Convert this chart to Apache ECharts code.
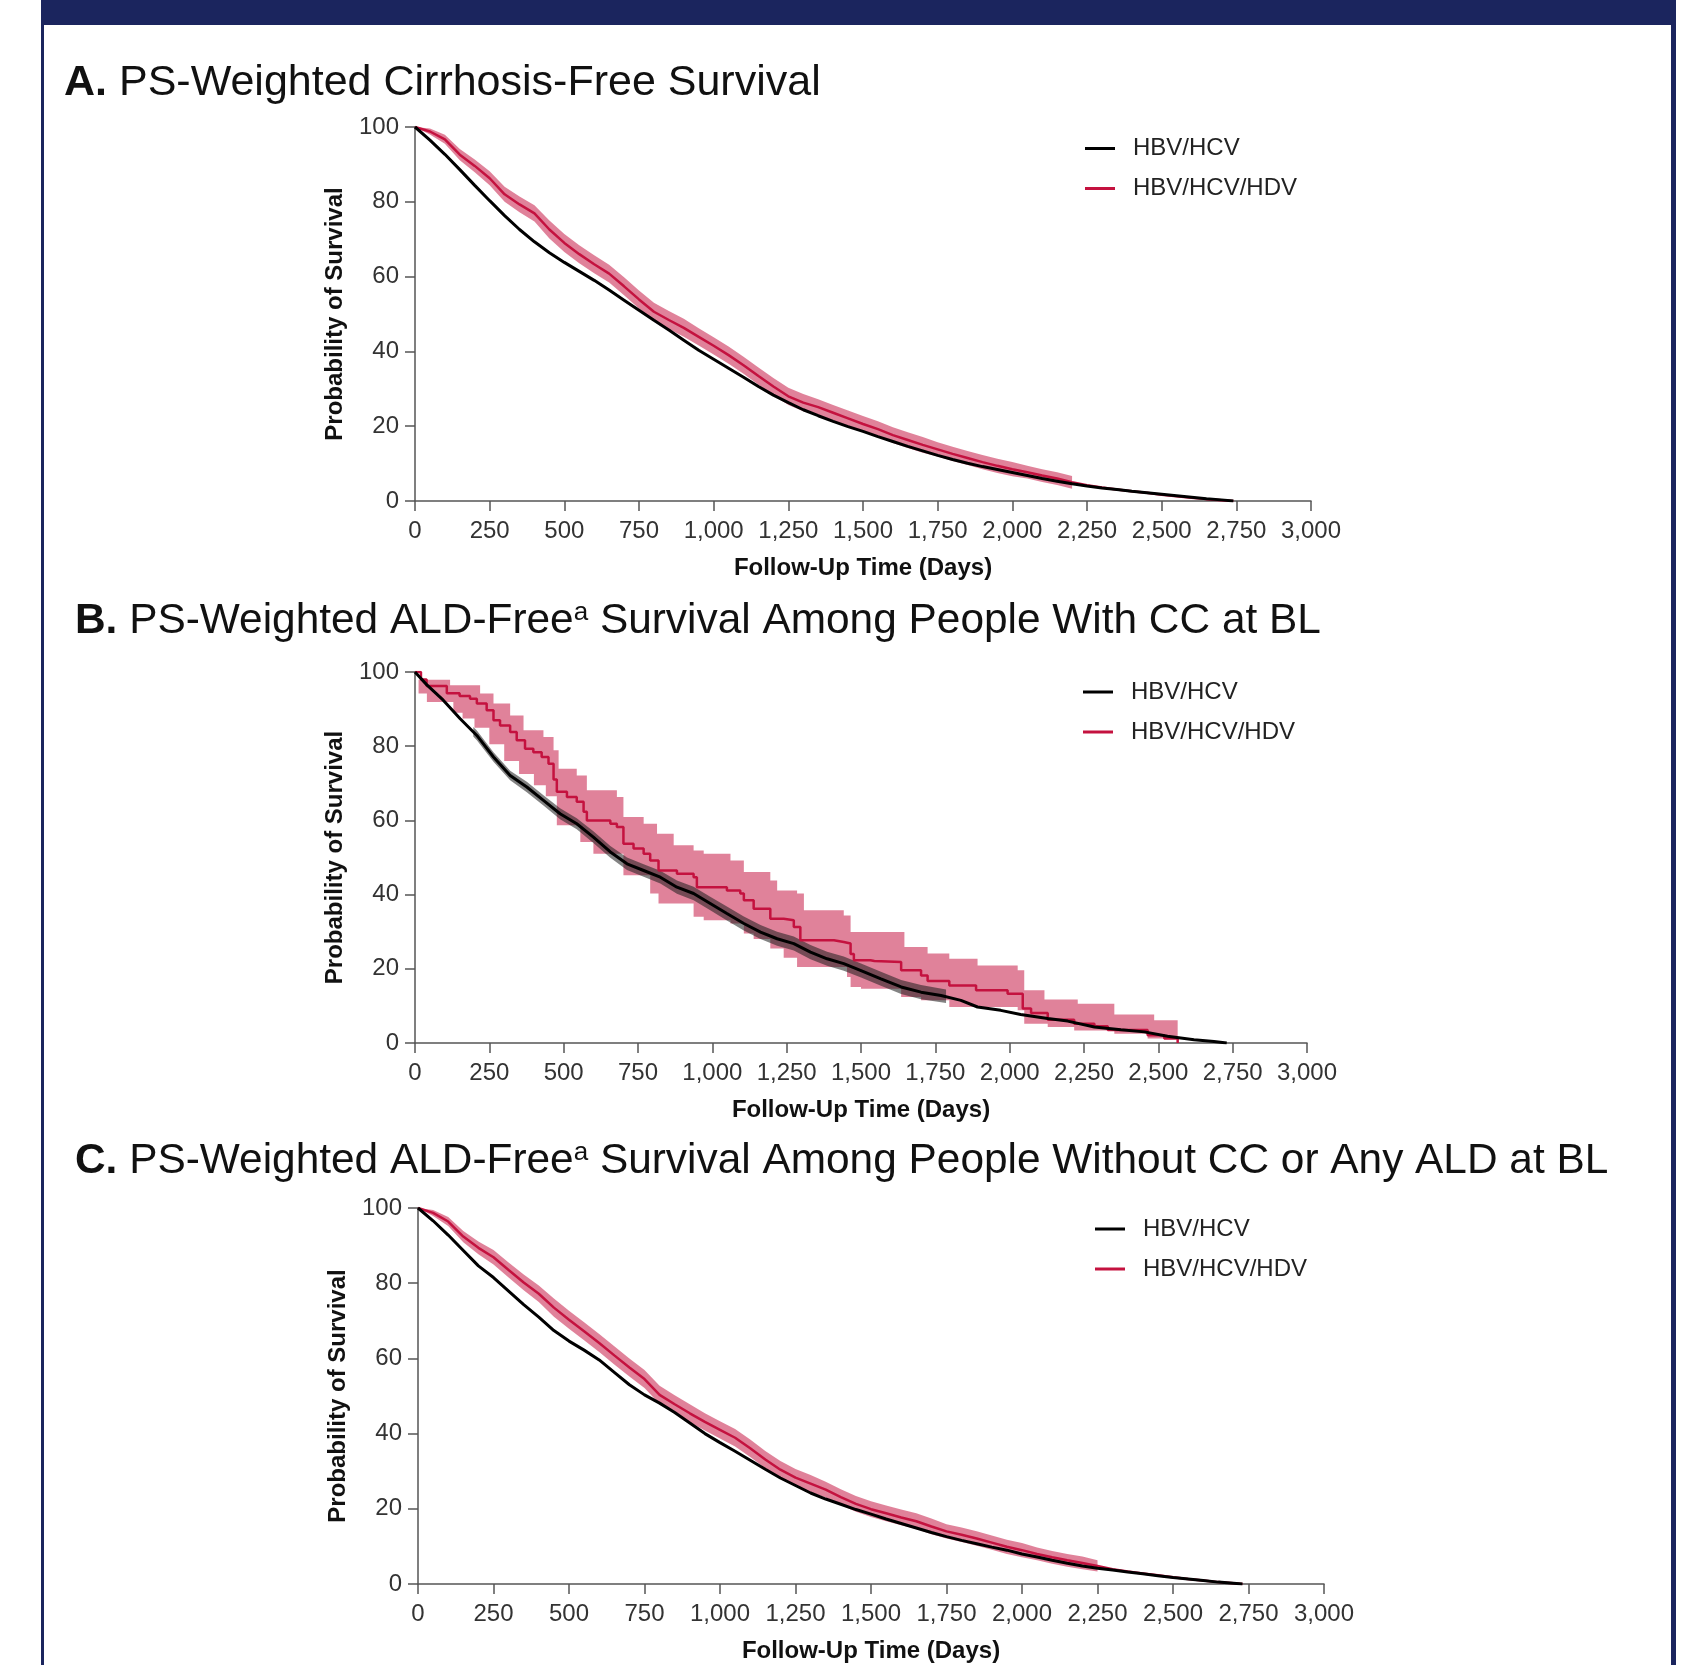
<!DOCTYPE html>
<html>
<head>
<meta charset="utf-8">
<script src="https://cdn.jsdelivr.net/npm/echarts@6/dist/echarts.min.js"></script>
<style>
  html, body { margin: 0; padding: 0; background: #ffffff; }
  #chart { width: 1689px; height: 1665px; }
</style>
</head>
<body>
<div id="chart"></div>
<script>
// ---- Axis ticks ----
const xTickLabels = ['0', '250', '500', '750', '1,000', '1,250', '1,500', '1,750', '2,000', '2,250', '2,500', '2,750', '3,000'];
const yTickLabels = ['0', '20', '40', '60', '80', '100'];
const seriesNames = ['HBV/HCV', 'HBV/HCV/HDV'];

// ---- Panel A: cirrhosis-free survival, [day, %] ----
const aBlack = [[0,100],[50,96.5],[100,92.7],[150,88.6],[200,84.4],[250,80.3],[300,76.3],[350,72.6],[400,69.3],[450,66.4],[500,63.8],[550,61.4],[600,59.0],[650,56.4],[700,53.7],[750,51.0],[800,48.3],[850,45.7],[900,43.0],[950,40.3],[1000,37.9],[1050,35.5],[1100,33.1],[1150,30.6],[1200,28.3],[1250,26.3],[1300,24.4],[1350,22.8],[1400,21.3],[1450,19.9],[1500,18.6],[1550,17.2],[1600,15.9],[1650,14.6],[1700,13.4],[1750,12.2],[1800,11.1],[1850,10.1],[1900,9.2],[1950,8.4],[2000,7.6],[2050,6.8],[2100,6.0],[2150,5.3],[2200,4.6],[2250,4.0],[2300,3.5],[2350,3.1],[2400,2.6],[2450,2.2],[2500,1.8],[2550,1.4],[2600,1.0],[2650,0.6],[2700,0.3],[2740,0]];
const aRed = [[0,100],[50,98.8],[100,96.7],[150,92.6],[200,89.6],[250,86.3],[300,82.0],[350,79.3],[400,76.9],[450,72.6],[500,69.0],[550,66.0],[600,63.3],[650,60.8],[700,57.4],[750,53.9],[800,50.6],[850,48.4],[900,46.3],[950,43.9],[1000,41.5],[1050,39.0],[1100,36.3],[1150,33.4],[1200,30.6],[1250,28.0],[1300,26.3],[1350,25.1],[1400,23.6],[1450,22.1],[1500,20.6],[1550,19.2],[1600,17.6],[1650,16.3],[1700,15.0],[1750,13.8],[1800,12.6],[1850,11.5],[1900,10.4],[1950,9.4],[2000,8.5],[2050,7.7],[2100,6.8],[2150,6.0],[2200,5.0],[2250,4.2],[2300,3.6],[2350,3.1],[2400,2.6],[2450,2.2],[2500,1.7],[2550,1.3],[2600,0.9],[2650,0.5],[2700,0.2],[2740,0]];
// [day, lower, upper]
const aRedBand = [[0,100,100],[50,98.0,99.6],[100,95.5,97.9],[150,91.1,94.1],[200,87.9,91.3],[250,84.4,88.2],[300,80.0,84.0],[350,77.2,81.4],[400,74.7,79.1],[450,70.2,75.0],[500,66.6,71.4],[550,63.6,68.4],[600,60.9,65.7],[650,58.4,63.2],[700,55.0,59.8],[750,51.5,56.3],[800,48.2,53.0],[850,46.0,50.8],[900,43.9,48.7],[950,41.6,46.2],[1000,39.2,43.8],[1050,36.7,41.3],[1100,34.0,38.6],[1150,31.1,35.7],[1200,28.3,32.9],[1250,25.7,30.3],[1300,24.0,28.6],[1350,23.0,27.2],[1400,21.5,25.7],[1450,20.0,24.2],[1500,18.5,22.7],[1550,17.1,21.3],[1600,15.5,19.7],[1650,14.2,18.4],[1700,12.9,17.1],[1750,11.9,15.7],[1800,10.7,14.5],[1850,9.6,13.4],[1900,8.5,12.3],[1950,7.5,11.3],[2000,6.6,10.4],[2050,6.0,9.4],[2100,5.1,8.5],[2150,4.3,7.7],[2200,3.3,6.7]];

// ---- Panel B: ALD-free survival, CC at BL ----
const bBlack = [[0,100],[39,96.6],[95,92.4],[152,87.4],[208,82.9],[264,77.1],[320,72.1],[376,69.0],[432,65.4],[488,61.8],[544,59.1],[600,55.5],[657,51.5],[713,48.3],[769,46.5],[825,44.7],[881,42.0],[937,40.3],[993,37.6],[1049,34.9],[1106,32.2],[1162,29.9],[1218,28.1],[1274,26.8],[1330,24.5],[1386,22.7],[1442,21.4],[1498,19.6],[1567,17.3],[1635,15.1],[1702,13.7],[1769,12.8],[1836,11.5],[1892,9.7],[1970,8.8],[2037,7.7],[2128,6.6],[2195,5.9],[2285,4.3],[2374,3.6],[2453,3.0],[2531,1.8],[2620,0.9],[2687,0.4],[2730,0]];
const bBlackBand = [[196,82.6,85.2],[208,81.6,84.2],[264,75.8,78.4],[320,70.8,73.4],[376,67.6,70.4],[432,64.0,66.8],[488,60.3,63.3],[544,57.6,60.6],[600,53.9,57.1],[657,49.9,53.1],[713,46.6,50.0],[769,44.8,48.2],[825,43.0,46.4],[881,40.2,43.8],[937,38.5,42.1],[993,35.8,39.4],[1049,33.0,36.8],[1106,30.3,34.1],[1162,28.0,31.8],[1218,26.2,30.0],[1274,24.9,28.7],[1330,22.6,26.4],[1386,20.8,24.6],[1442,19.5,23.3],[1498,17.7,21.5],[1567,15.4,19.2],[1635,13.2,17.0],[1702,11.8,15.6],[1786,10.8,14.4]];
// step points: value from this day onward
const bRed = [[0,100],[20,98.0],[39,96.2],[107,94.3],[150,93.5],[185,92.8],[208,91.5],[241,89.7],[264,87.0],[286,85.6],[320,83.8],[342,81.6],[370,79.3],[398,78.4],[426,77.1],[449,75.3],[466,71.0],[477,67.7],[511,66.3],[544,65.0],[567,62.3],[578,60.0],[657,59.1],[679,58.2],[701,53.7],[735,52.4],[769,51.0],[791,49.2],[819,46.5],[881,45.6],[937,44.7],[948,42.0],[1049,41.1],[1094,40.3],[1106,38.5],[1139,36.2],[1195,33.5],[1240,33.1],[1274,31.3],[1296,27.7],[1409,27.2],[1442,26.8],[1465,24.0],[1476,22.3],[1532,22.1],[1545,21.8],[1635,19.6],[1702,18.2],[1724,16.7],[1797,15.5],[1887,14.2],[1993,13.3],[2044,9.3],[2072,8.1],[2128,6.3],[2217,5.2],[2285,4.5],[2330,3.5],[2464,2.1],[2520,1.2],[2565,0]];
const bRedBand = [[0,100,100],[12,94.2,97.9],[40,91.9,97.9],[118,91.9,96.4],[129,89.0,96.4],[160,87.5,96.4],[200,85.0,96.4],[219,85.0,94.2],[250,80.5,94.2],[264,80.5,91.5],[300,76.0,91.5],[320,76.0,88.3],[350,72.5,88.3],[365,72.5,84.3],[400,69.5,84.3],[432,69.5,82.5],[440,66.5,82.5],[466,66.5,78.9],[477,58.7,78.9],[483,58.7,73.9],[544,58.7,72.1],[556,54.2,72.1],[578,54.2,68.1],[600,51.0,68.1],[679,51.0,66.3],[701,45.2,60.9],[769,45.2,59.1],[791,40.3,59.1],[814,40.3,56.4],[819,37.6,56.4],[870,37.6,53.3],[937,34.0,51.9],[971,33.1,51.0],[1061,32.2,49.2],[1106,29.5,46.1],[1139,28.0,46.1],[1195,25.5,43.8],[1218,25.5,41.1],[1240,23.0,41.1],[1285,20.5,40.3],[1308,20.5,35.8],[1442,20.5,34.4],[1453,17.8,34.4],[1465,15.1,29.9],[1500,14.6,29.9],[1635,12.4,29.9],[1646,12.4,25.9],[1702,11.5,25.9],[1724,11.5,24.1],[1797,9.7,22.7],[1892,9.7,20.9],[2027,8.8,19.6],[2049,5.2,14.2],[2117,5.2,11.7],[2128,4.3,11.7],[2217,3.4,11.7],[2229,3.4,10.6],[2352,2.5,7.7],[2464,1.2,7.7],[2486,1.2,6.1],[2565,0.3,4.8]];

// ---- Panel C: ALD-free survival, no CC or ALD at BL ----
const cBlack = [[0,100],[50,96.6],[100,92.8],[150,88.7],[200,84.6],[250,81.5],[300,77.9],[350,74.3],[400,71.0],[450,67.4],[500,64.6],[550,62.2],[600,59.6],[650,56.3],[700,53.0],[750,50.3],[800,48.1],[850,45.6],[900,42.8],[950,40.0],[1000,37.6],[1050,35.3],[1100,32.9],[1150,30.5],[1200,28.2],[1250,26.2],[1300,24.2],[1350,22.6],[1400,21.2],[1450,19.8],[1500,18.6],[1550,17.3],[1600,16.1],[1650,14.9],[1700,13.7],[1750,12.6],[1800,11.6],[1850,10.7],[1900,9.8],[1950,9.0],[2000,8.0],[2050,7.2],[2100,6.3],[2150,5.5],[2200,4.8],[2250,4.2],[2300,3.7],[2350,3.2],[2400,2.7],[2450,2.2],[2500,1.7],[2550,1.3],[2600,0.9],[2650,0.5],[2700,0.2],[2730,0]];
const cRed = [[0,100],[50,98.7],[100,96.4],[150,92.4],[200,89.4],[250,86.9],[300,83.5],[350,80.2],[400,77.2],[450,73.5],[500,70.3],[550,67.2],[600,64.1],[650,60.8],[700,57.6],[750,54.5],[800,50.3],[850,47.8],[900,45.4],[950,43.1],[1000,41.0],[1050,38.9],[1100,36.1],[1150,33.1],[1200,30.4],[1250,28.3],[1300,26.7],[1350,25.1],[1400,23.1],[1450,21.3],[1500,19.9],[1550,18.8],[1600,17.7],[1650,16.7],[1700,15.3],[1750,14.0],[1800,13.1],[1850,12.1],[1900,11.0],[1950,9.9],[2000,9.0],[2050,8.0],[2100,7.1],[2150,6.3],[2200,5.6],[2250,4.8],[2300,3.9],[2350,3.3],[2400,2.8],[2450,2.3],[2500,1.8],[2550,1.3],[2600,0.9],[2650,0.5],[2700,0.2],[2730,0]];
const cRedBand = [[0,100,100],[50,97.9,99.5],[100,95.2,97.6],[150,90.9,93.9],[200,87.7,91.1],[250,85.0,88.8],[300,81.5,85.5],[350,78.1,82.3],[400,75.0,79.4],[450,71.1,75.9],[500,67.9,72.7],[550,64.8,69.6],[600,61.7,66.5],[650,58.4,63.2],[700,55.2,60.0],[750,52.1,56.9],[800,47.9,52.7],[850,45.4,50.2],[900,43.0,47.8],[950,40.8,45.4],[1000,38.7,43.3],[1050,36.6,41.2],[1100,33.8,38.4],[1150,30.8,35.4],[1200,28.1,32.7],[1250,26.0,30.6],[1300,24.4,29.0],[1350,23.0,27.2],[1400,21.0,25.2],[1450,19.2,23.4],[1500,17.8,22.0],[1550,16.7,20.9],[1600,15.6,19.8],[1650,14.6,18.8],[1700,13.2,17.4],[1750,12.1,15.9],[1800,11.2,15.0],[1850,10.2,14.0],[1900,9.1,12.9],[1950,8.0,11.8],[2000,7.1,10.9],[2050,6.3,9.7],[2100,5.4,8.8],[2150,4.6,8.0],[2200,3.9,7.3],[2250,3.3,6.3]];

// ---- Styling ----
const FONT = '"Liberation Sans", Arial, Helvetica, sans-serif';
const NAVY = '#1b255e';
const RED = '#c4123f';
const RED_BAND = 'rgba(196, 18, 64, 0.53)';
const GREY_BAND = 'rgba(30, 30, 30, 0.55)';
const AXIS_GREY = '#555555';

const grids = [
  { left: 415, top: 127, width: 896, height: 374 },
  { left: 415, top: 672, width: 892, height: 371 },
  { left: 418, top: 1208, width: 906, height: 376 }
];

function xAxisFor(i) {
  return {
    gridIndex: i, type: 'value', min: 0, max: 3000, interval: 250,
    axisLine: { show: true, lineStyle: { color: AXIS_GREY, width: 1.5 } },
    axisTick: { show: true, length: 10, lineStyle: { color: AXIS_GREY, width: 1.5 } },
    splitLine: { show: false },
    axisLabel: {
      fontSize: 24, color: '#333', fontFamily: FONT, margin: 18, interval: 0,
      formatter: v => xTickLabels[Math.round(v / 250)]
    },
    name: 'Follow-Up Time (Days)', nameLocation: 'middle', nameGap: 55,
    nameTextStyle: { fontSize: 24, fontWeight: 'bold', color: '#111', fontFamily: FONT }
  };
}
function yAxisFor(i) {
  return {
    gridIndex: i, type: 'value', min: 0, max: 100, interval: 20,
    axisLine: { show: true, lineStyle: { color: AXIS_GREY, width: 1.5 } },
    axisTick: { show: true, length: 10, lineStyle: { color: AXIS_GREY, width: 1.5 } },
    splitLine: { show: false },
    axisLabel: {
      fontSize: 24, color: '#333', fontFamily: FONT, margin: 16,
      formatter: v => yTickLabels[Math.round(v / 20)]
    },
    name: 'Probability of Survival', nameLocation: 'middle', nameGap: 68, nameRotate: 90,
    nameTextStyle: { fontSize: 24, fontWeight: 'bold', color: '#111', fontFamily: FONT }
  };
}

function curve(name, data, color, width, i, step, z) {
  return {
    name, type: 'line', xAxisIndex: i, yAxisIndex: i, data,
    symbol: 'none', showSymbol: false, step: step || false,
    lineStyle: { color, width }, z, silent: true, animation: false
  };
}
// confidence band: polygon from upper edge forward and lower edge back, placed via the axes
function band(name, tri, color, i, step, z) {
  return {
    name, type: 'custom', xAxisIndex: i, yAxisIndex: i, z, silent: true, animation: false,
    data: tri, encode: { x: 0, y: [1, 2] },
    renderItem: function (params, api) {
      if (params.dataIndex !== 0) return null;
      const upper = [], lower = [];
      for (let k = 0; k < tri.length; k++) {
        const d = tri[k][0];
        if (step && k > 0) {
          upper.push(api.coord([d, tri[k - 1][2]]));
          lower.push(api.coord([d, tri[k - 1][1]]));
        }
        upper.push(api.coord([d, tri[k][2]]));
        lower.push(api.coord([d, tri[k][1]]));
      }
      return {
        type: 'polygon',
        shape: { points: upper.concat(lower.reverse()) },
        style: { fill: color }
      };
    }
  };
}

const series = [
  band('aRedCI', aRedBand, RED_BAND, 0, false, 1),
  curve(seriesNames[1], aRed, RED, 2.5, 0, false, 3),
  curve(seriesNames[0], aBlack, '#000', 3, 0, false, 4),
  band('bRedCI', bRedBand, RED_BAND, 1, true, 1),
  band('bBlackCI', bBlackBand, GREY_BAND, 1, false, 2),
  curve(seriesNames[1], bRed, RED, 2.5, 1, 'end', 3),
  curve(seriesNames[0], bBlack, '#000', 3, 1, false, 4),
  band('cRedCI', cRedBand, RED_BAND, 2, false, 1),
  curve(seriesNames[1], cRed, RED, 2.5, 2, false, 3),
  curve(seriesNames[0], cBlack, '#000', 3, 2, false, 4)
];

// panel headings
function titleRich(size) {
  return {
    b: { fontFamily: FONT, fontSize: size, fontWeight: 'bold', fill: '#111' },
    r: { fontFamily: FONT, fontSize: size, fill: '#111' },
    sup: { fontFamily: FONT, fontSize: Math.round(size * 0.62), fill: '#111', verticalAlign: 'top' }
  };
}
function heading(x, y, text, size) {
  return {
    type: 'text', left: x, top: y, z: 20,
    style: { text, rich: titleRich(size), fontFamily: FONT, fontSize: size, fill: '#111' }
  };
}
function legendBlock(x, y) {
  return {
    type: 'group', x, y, z: 20,
    children: [
      { type: 'line', z: 20, shape: { x1: 0, y1: 0, x2: 30, y2: 0 }, style: { stroke: '#000', lineWidth: 3 } },
      { type: 'text', z: 20, x: 48, y: 0, style: { text: seriesNames[0], fontFamily: FONT, fontSize: 24, fill: '#222', verticalAlign: 'middle' } },
      { type: 'line', z: 20, shape: { x1: 0, y1: 40, x2: 30, y2: 40 }, style: { stroke: RED, lineWidth: 3 } },
      { type: 'text', z: 20, x: 48, y: 40, style: { text: seriesNames[1], fontFamily: FONT, fontSize: 24, fill: '#222', verticalAlign: 'middle' } }
    ]
  };
}

const graphic = [
  // page frame
  { type: 'rect', shape: { x: 42, y: 0, width: 1634, height: 25 }, style: { fill: NAVY }, z: 0 },
  { type: 'rect', shape: { x: 41, y: 0, width: 3, height: 1665 }, style: { fill: NAVY }, z: 0 },
  { type: 'rect', shape: { x: 1671, y: 0, width: 5, height: 1665 }, style: { fill: NAVY }, z: 0 },
  heading(64, 62, '{b|A.}{r| PS-Weighted Cirrhosis-Free Survival}', 43),
  heading(75, 600, '{b|B.}{r| PS-Weighted ALD-Free}{sup|a}{r| Survival Among People With CC at BL}', 42.4),
  heading(75, 1140, '{b|C.}{r| PS-Weighted ALD-Free}{sup|a}{r| Survival Among People Without CC or Any ALD at BL}', 42.4),
  legendBlock(1085, 148.5),
  legendBlock(1083, 692),
  legendBlock(1095, 1229)
];

const chart = echarts.init(document.getElementById('chart'), null, { renderer: 'canvas' });
chart.setOption({
  backgroundColor: '#ffffff',
  animation: false,
  grid: grids,
  xAxis: [xAxisFor(0), xAxisFor(1), xAxisFor(2)],
  yAxis: [yAxisFor(0), yAxisFor(1), yAxisFor(2)],
  series,
  graphic
});
</script>
</body>
</html>
